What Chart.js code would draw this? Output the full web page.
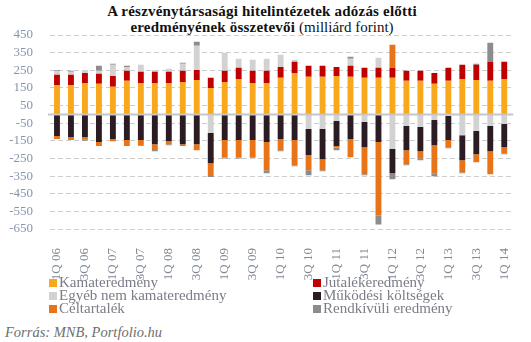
<!DOCTYPE html>
<html lang="hu">
<head>
<meta charset="utf-8">
<title>Hitelintézetek adózás előtti eredménye</title>
<script src="https://cdn.jsdelivr.net/npm/chart.js@4.4.1/dist/chart.umd.min.js"></script>
<style>
  html, body { margin: 0; padding: 0; background: #fff; }
  body { width: 531px; height: 342px; position: relative; overflow: hidden; font-family: "Liberation Serif", "DejaVu Serif", serif; }
  #title { position: absolute; left: 0; top: 3px; width: 524px; text-align: center; color: #111; font-size: 15px; line-height: 16px; font-weight: bold; letter-spacing: 0.2px; }
  #title .unit { font-weight: normal; letter-spacing: 0; }
  #wrap { position: absolute; left: 0; top: 0; width: 531px; height: 290px; }
  #legend { position: absolute; left: 49px; top: 276px; display: grid; grid-template-columns: 264px 220px; font-size: 15px; line-height: 13px; color: #7c7c88; }
  #legend .item { display: flex; align-items: center; white-space: nowrap; }
  #legend .box { width: 8px; height: 8px; margin-right: 2px; flex: none; }
  #source { position: absolute; left: 5px; top: 324px; font-size: 14.5px; font-style: italic; color: #6e6e6e; }
</style>
</head>
<body>
<div id="title">A részvénytársasági hitelintézetek adózás előtti<br>eredményének összetevői <span class="unit">(milliárd forint)</span></div>
<div id="wrap"><canvas id="chart" width="531" height="290"></canvas></div>
<div id="legend"></div>
<div id="source">Forrás: MNB, Portfolio.hu</div>
<script>
  const quarters = [
    '1Q 06', '2Q 06', '3Q 06', '4Q 06', '1Q 07', '2Q 07', '3Q 07', '4Q 07',
    '1Q 08', '2Q 08', '3Q 08', '4Q 08', '1Q 09', '2Q 09', '3Q 09', '4Q 09',
    '1Q 10', '2Q 10', '3Q 10', '4Q 10', '1Q 11', '2Q 11', '3Q 11', '4Q 11',
    '1Q 12', '2Q 12', '3Q 12', '4Q 12', '1Q 13', '2Q 13', '3Q 13', '4Q 13',
    '1Q 14'
  ];

  // milliárd forint, negyedévente
  const kamateredmeny = [167, 167, 178, 173, 156, 190, 178, 178, 178, 184, 195, 150, 184, 201, 178, 178,
    207, 235, 213, 213, 218, 213, 207, 207, 207, 190, 190, 173, 190, 201, 195, 190, 201];
  const jutalekeredmeny = [57, 57, 57, 57, 62, 57, 63, 63, 63, 63, 57, 57, 63, 63, 69, 69,
    62, 63, 62, 62, 51, 62, 57, 57, 57, 57, 57, 62, 74, 80, 86, 108, 97];
  const egyebNemKamat = [21, 17, 17, 17, 63, 22, 40, 11, 17, 40, 137, -106, 102, 51, 62, 68,
    69, 11, -83, -83, -38, 40, -44, 57, -197, -66, -72, -32, -9, -118, -95, -66, -55];
  const mukodesiKoltseg = [-123, -129, -129, -157, -140, -146, -146, -169, -152, -169, -169, -171, -146, -146, -146, -157,
    -140, -146, -148, -171, -142, -140, -142, -157, -137, -137, -137, -143, -137, -142, -131, -143, -131];
  const celtartalek = [-17, -17, -15, -23, -12, -34, -29, -28, -17, -11, -34, -72, -99, -99, -99, -160,
    -63, -144, -86, -63, -8, -103, -154, -416, 131, -80, -40, -159, -40, -68, -45, -131, -34];
  const rendkivuli = [5, 6, -6, 28, 6, 6, -5, -12, -6, 5, 23, -6, -5, -5, -3, -17,
    -6, -4, -28, -6, -15, 11, -5, -51, -34, -5, -11, -17, -6, -6, 6, 108, -6];

  const yTicks = { min: -650, max: 450, step: 100 };

  const series = [
    { label: 'Kamateredmény', data: kamateredmeny, color: '#f9a71c' },
    { label: 'Jutalékeredmény', data: jutalekeredmeny, color: '#c00000' },
    { label: 'Egyéb nem kamateredmény', data: egyebNemKamat, color: '#d2d2d2' },
    { label: 'Működési költségek', data: mukodesiKoltseg, color: '#2b1c24' },
    { label: 'Céltartalék', data: celtartalek, color: '#e97418' },
    { label: 'Rendkívüli eredmény', data: rendkivuli, color: '#8c8c8c' }
  ];

  // solid line at zero, drawn over the bars
  const zeroLine = {
    id: 'zeroLine',
    afterDatasetsDraw(chart) {
      const { ctx, chartArea, scales } = chart;
      const y = Math.round(scales.y.getPixelForValue(0)) + 0.5;
      ctx.save();
      ctx.strokeStyle = '#c6c6c6';
      ctx.lineWidth = 2;
      ctx.beginPath();
      ctx.moveTo(chartArea.left - 2, y);
      ctx.lineTo(chartArea.right + 2, y);
      ctx.stroke();
      ctx.restore();
    }
  };

  new Chart(document.getElementById('chart'), {
    type: 'bar',
    data: {
      labels: quarters,
      datasets: series.map(s => ({
        label: s.label,
        data: s.data,
        backgroundColor: s.color,
        borderWidth: 0,
        barPercentage: 0.42,
        categoryPercentage: 1
      }))
    },
    options: {
      responsive: false,
      animation: false,
      layout: { padding: { top: 35, right: 10, left: 0, bottom: 0 } },
      plugins: { legend: { display: false }, tooltip: { enabled: false } },
      scales: {
        x: {
          stacked: true,
          grid: { display: false },
          border: { display: false },
          afterFit: scale => { scale.height = 61; },
          ticks: {
            autoSkip: false,
            minRotation: 90,
            maxRotation: 90,
            padding: 11,
            color: '#7f8894',
            font: { family: 'Liberation Serif', size: 13 },
            callback: function (v, i) { return i % 2 === 0 ? this.getLabelForValue(v) : ''; }
          }
        },
        y: {
          stacked: true,
          min: yTicks.min,
          max: yTicks.max,
          afterFit: scale => { scale.width = 50; },
          border: { display: false, dash: [5, 3] },
          grid: { color: '#cdcdcd', lineWidth: 1, drawTicks: false },
          ticks: {
            autoSkip: false,
            stepSize: yTicks.step,
            padding: 17,
            color: '#8795ae',
            font: { family: 'Liberation Serif', size: 13 },
            callback: v => String(v)
          }
        }
      }
    },
    plugins: [zeroLine]
  });

  const legend = document.getElementById('legend');
  series.forEach(s => {
    const item = document.createElement('div');
    item.className = 'item';
    item.innerHTML = `<span class="box" style="background:${s.color}"></span><span>${s.label}</span>`;
    legend.appendChild(item);
  });
</script>
</body>
</html>
